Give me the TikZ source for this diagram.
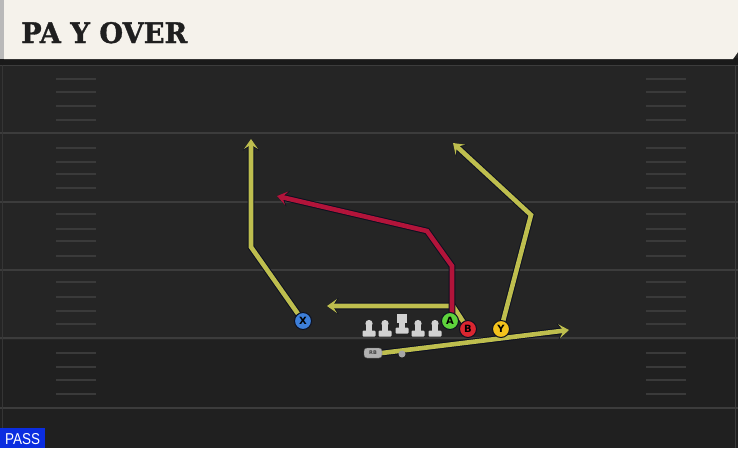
\documentclass[tikz,border=0pt]{standalone}
\usepackage{fontspec}
\usetikzlibrary{arrows.meta}
\newfontfamily\titlefont{DejaVu Serif}[FakeBold=1.2]
\newfontfamily\pfont{DejaVu Sans}
\newfontfamily\passfont{Liberation Sans}
\definecolor{field}{HTML}{252525}
\definecolor{fieldlow}{HTML}{202020}
\definecolor{yardline}{HTML}{3C3C3C}
\definecolor{hashc}{HTML}{3A3A3A}
\definecolor{cream}{HTML}{F5F2EB}
\definecolor{strip}{HTML}{1A1A1A}
\definecolor{ylw}{HTML}{BEBE4E}
\definecolor{rd}{HTML}{B2143A}
\definecolor{outl}{HTML}{0C1020}
\definecolor{xblue}{HTML}{3D7FDA}
\definecolor{agreen}{HTML}{5ED33C}
\definecolor{bred}{HTML}{DA2630}
\definecolor{yyel}{HTML}{F3C21C}
\definecolor{lineman}{HTML}{D2D2D2}
\definecolor{passblue}{HTML}{0B2DE0}
\tikzset{
  route/.style={line width=4.6pt, line join=miter, -{Stealth[length=10pt,width=14pt,inset=4.5pt]},
    preaction={draw=outl, line width=6.6pt, -{Stealth[length=11.5pt,width=16pt,inset=5.2pt]}}},
  player/.style={circle, draw=outl, line width=1pt, minimum size=17pt, inner sep=0pt,
    font=\pfont\bfseries\fontsize{10}{10}\selectfont, text=black},
  rbbox/.style={draw=black!60, fill=lineman!85!black, rounded corners=3pt, minimum width=18pt, minimum height=10pt,
    inner sep=0pt, font=\pfont\bfseries\fontsize{5}{5}\selectfont, text=black!75},
  hdot/.style={circle, fill=gray!70, minimum size=7pt, inner sep=0pt},
  yard/.style={draw=yardline, line width=1.8pt},
  hashm/.style={draw=hashc, line width=1.4pt},
}
\begin{document}
\begin{tikzpicture}[x=1pt,y=-1pt]
\useasboundingbox (0,0) rectangle (738,448);
% field
\fill[field] (0,0) rectangle (738,448);
\fill[fieldlow] (0,340) rectangle (738,448);
% yard lines
\foreach \yy in {133,202,270,338,408} \draw[yard] (0,\yy) -- (738,\yy);
\draw[yard] (0,65.5) -- (738,65.5);
\draw[draw=yardline, line width=1pt] (735.5,65) -- (735.5,448);
\draw[draw=yardline!70!field, line width=1pt] (2,65) -- (2,448);
% hash marks
\foreach \yy in {79,92,106,120,148,162,174,188,214,229,241,256,282,297,311,324,353,367,380,394} {
  \draw[hashm] (56,\yy) -- (96,\yy);
  \draw[hashm] (646,\yy) -- (686,\yy);
}
% title bar
\fill[strip] (0,58) rectangle (738,65);
\fill[gray!55] (0,0) rectangle (4,59);
\fill[cream] (4,0) -- (738,0) -- (738,52) -- (733,59) -- (4,59) -- cycle;
\node[anchor=base west, inner sep=0pt, text=black!88] (title) at (21,43)
  {\resizebox{166pt}{21pt}{\titlefont\bfseries PA Y OVER}};
% players (positions)
\coordinate (Xp) at (303,321);
\coordinate (Ap) at (450,321);
\coordinate (Bp) at (468,329);
\coordinate (Yp) at (501,329);
\coordinate (RBp) at (373,353);
% route waypoints
\coordinate (x1) at (251,247);
\coordinate (x2) at (251,139);
\coordinate (b1) at (453,306);
\coordinate (b2) at (327,306);
\coordinate (a0) at (452,314);
\coordinate (a1) at (452,266);
\coordinate (a2) at (427,231);
\coordinate (a3) at (277,196);
\coordinate (y1) at (531,215);
\coordinate (y2) at (453,143);
\coordinate (r1) at (382,353);
\coordinate (r2) at (569,330);
% routes
\draw[route, draw=ylw] (Xp) -- (x1) -- (x2);
\draw[route, draw=ylw] (Bp) -- (b1) -- (b2);
\draw[route, draw=rd] (a0) -- (a1) -- (a2) -- (a3);
\draw[route, draw=ylw] (Yp) -- (y1) -- (y2);
\draw[route, draw=ylw] (r1) -- (r2);
% players on top
\node[player, fill=xblue] (X) at (Xp) {X};
\node[player, fill=agreen] (A) at (Ap) {A};
\node[player, fill=bred] (B) at (Bp) {B};
\node[player, fill=yyel] (Y) at (Yp) {Y};
\node[rbbox] (RB) at (RBp) {RB};
\node[hdot] (dot) at (402,354) {};
% linemen
\foreach \lx in {369,385,418,435} {
  \fill[lineman] (\lx,323.5) circle (3.6pt);
  \fill[lineman] (\lx-2.6,323.5) rectangle (\lx+2.6,333);
  \fill[lineman, rounded corners=1pt] (\lx-6.5,330.5) rectangle (\lx+6.5,336.5);
}
\fill[lineman] (397,314) rectangle (407,323);
\fill[lineman] (399.4,323) rectangle (404.6,330);
\fill[lineman, rounded corners=1pt] (395.5,327.5) rectangle (408.5,333.5);
% pass label
\fill[passblue] (0,428) rectangle (45,448);
\node[inner sep=0pt, anchor=base west, text=white] (pass) at (5,444)
  {\resizebox{35pt}{11pt}{\passfont PASS}};
\end{tikzpicture}
\end{document}
